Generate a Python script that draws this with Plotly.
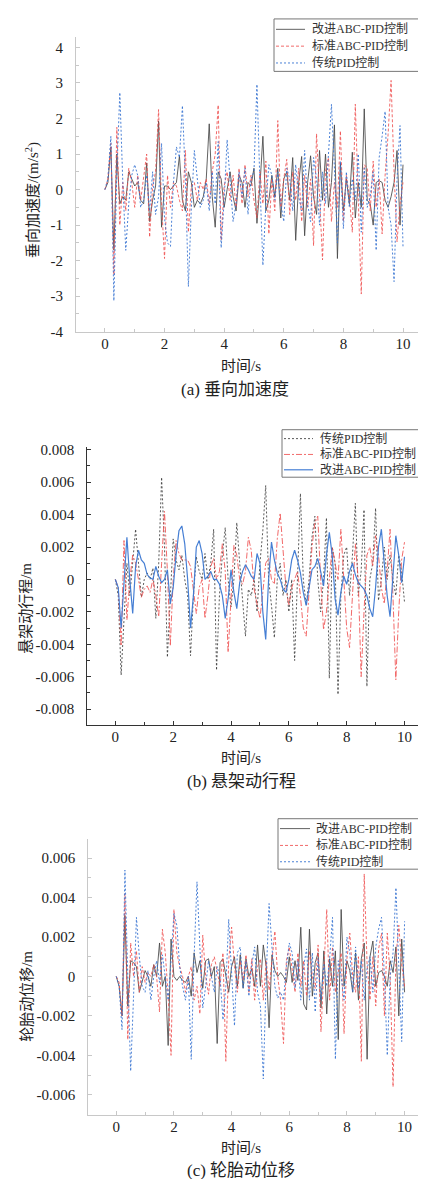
import plotly.graph_objects as go

W, H = 426, 1179
time_s = [i / 10 for i in range(101)]

# ---------- (a) 垂向加速度 (m/s^2) ----------
acc_improved = [0.0, 0.2, 1.2, -1.7, 1.0, -0.4, -0.2, -0.3, 0.5, 0.3,
                0.1, 0.2, -0.3, -0.4, 0.75, -0.9, -0.3, 0.1, 1.93, -1.06,
                0.1, 0.1, 0.0, 0.1, 0.2, 0.95, -0.3, -0.6, 0.5, 0.2,
                -0.5, -0.3, -0.4, -0.2, 0.3, 1.85, -0.2, -1.06, 0.5, 0.3,
                -0.5, 0.0, 0.5, -0.2, -0.6, 0.4, 0.2, -0.5, 0.2, 0.1,
                0.6, -0.95, 0.1, 1.5, -0.6, -0.3, 0.4, -0.2, 0.6, -0.8,
                0.3, 0.5, -0.3, 0.9, -1.43, 0.2, 0.93, -1.3, 0.2, 0.95,
                -0.2, -0.7, 1.1, -0.3, 1.0, -0.5, 0.2, 1.82, -1.94, 0.75,
                -0.6, 0.3, -0.4, 1.05, -0.8, 0.2, -0.5, 2.27, -0.3, -0.4,
                -1.0, 0.2, 0.25, 0.2, -0.3, -0.5, -0.2, 0.2, 1.1, -1.0, 0.7]
acc_standard = [0.0, 0.3, 1.3, -2.4, 1.75, -1.0, 0.2, -0.6, 0.6, 0.2,
                -0.5, 0.4, -0.3, 0.3, 1.0, -1.34, 0.1, 0.5, 2.25, -0.4,
                -1.94, 0.4, -0.5, 0.2, 0.1, -0.3, -0.6, 1.1, -1.2, 0.1,
                0.2, -0.3, 0.2, 0.0, 0.3, -0.4, 0.5, 1.0, 2.38, -1.43,
                0.1, 0.5, -0.3, 0.4, -0.5, 0.6, -0.4, 0.7, -0.2, 0.4,
                -0.3, -0.8, 0.5, -0.4, 0.8, -1.25, 0.3, -0.6, 1.94, -0.5,
                0.3, 0.85, -0.7, 0.5, -0.3, 0.6, -0.9, 0.4, -0.5, 0.3,
                -1.58, 1.57, -0.4, -1.98, 0.5, 0.9, -0.9, 0.2, -0.5, 1.65,
                -0.9, 0.4, -0.2, -1.2, 2.4, -0.5, -2.94, 0.7, 0.6, -0.6,
                0.8, -0.5, 0.3, -1.25, 0.4, 1.55, 3.07, 0.5, -1.47, -0.4, 0.2]
acc_pid = [0.0, 0.3, 1.5, -3.13, 0.5, 2.73, 0.2, -1.71, -0.4, 0.4,
           0.7, 0.4, -0.5, -0.3, 0.4, -0.6, 0.5, -0.7, -0.2, 1.3,
           -0.8, -1.5, -1.6, 0.2, 1.2, 0.9, 2.36, 0.3, -2.73, -0.5,
           1.1, 0.3, -0.5, -0.3, 0.2, -0.6, 0.5, -0.4, 1.35, -1.64,
           -0.3, 1.4, 0.3, -0.9, -0.4, 0.5, -0.2, 0.6, -0.7, 0.3,
           0.5, 2.96, 0.2, -2.13, -0.4, 0.7, 0.4, -0.3, 0.5, -0.4,
           -0.9, 0.6, 0.3, -0.6, 0.7, -0.2, -0.6, 1.1, -0.4, -0.9,
           0.9, 0.3, -1.0, 0.5, -0.4, 1.0, 2.4, 0.6, -1.5, 0.8,
           -1.1, 0.5, -0.5, 0.3, -0.3, 1.0, -1.2, 0.6, -0.5, -0.2,
           0.5, -1.71, 0.9, 1.5, 2.2, -0.5, -1.0, -2.59, 0.3, 1.8, -1.6]

# ---------- (b) 悬架动行程 (m) ----------
susp_pid = [0.0, -0.001, -0.0059, -0.002, 0.001, -0.001, 0.001, 0.0031, 0.001, -0.0011,
            0.0, 0.0004, 0.0, 0.0007, -0.0024, 0.001, 0.0063, 0.002, -0.0048, -0.001,
            0.0025, 0.0012, 0.0006, 0.0015, 0.0, -0.001, -0.0047, -0.001, 0.0014, 0.0005,
            0.0, 0.0016, 0.0, 0.001, 0.0031, -0.0056, -0.001, 0.0015, 0.0032, 0.0,
            -0.0017, 0.0, 0.0035, 0.001, -0.001, -0.0035, -0.0006, -0.001, 0.0, -0.002,
            0.001, 0.003, 0.0058, 0.0, -0.0016, -0.0036, 0.0, 0.001, -0.001, 0.0,
            -0.002, 0.0, -0.005, 0.0, 0.0053, 0.0, -0.0016, 0.0, 0.0026, 0.0039,
            0.0, -0.002, 0.0, 0.0038, -0.0061, 0.002, 0.001, -0.0071, -0.001, 0.0015,
            0.002, -0.001, 0.0015, 0.0047, -0.001, 0.0005, 0.0043, -0.0066, 0.0, 0.001,
            0.0044, -0.0013, 0.0, 0.002, 0.0, 0.0015, 0.0, -0.001, 0.0015, 0.0005, -0.0014]
susp_standard = [0.0, -0.0005, -0.0041, 0.0024, -0.0025, 0.0, 0.0015, 0.001, 0.0, -0.0011,
                 -0.0006, -0.0004, -0.0008, 0.0, -0.001, -0.0023, 0.001, 0.0042, 0.0005, -0.0041,
                 0.0, 0.0024, 0.0016, 0.0012, 0.0012, 0.0012, 0.0008, -0.0005, -0.0021, -0.0005,
                 0.0, -0.0024, -0.001, 0.0008, 0.0013, 0.0, 0.0005, 0.0022, 0.0005, -0.0045,
                 -0.001, 0.0021, 0.0015, 0.0, -0.0003, 0.0005, 0.0026, 0.0018, -0.0006, -0.0015,
                 -0.0024, -0.0008, 0.001, 0.0013, 0.0, -0.0003, 0.0025, 0.0041, 0.002, -0.0005,
                 -0.0016, -0.0005, 0.0, 0.0005, -0.001, -0.003, -0.0035, -0.001, 0.002, 0.0035,
                 0.0039, 0.0, -0.0031, -0.002, 0.0, 0.002, 0.001, 0.0, 0.0031, 0.0,
                 -0.003, -0.0042, -0.001, 0.0022, 0.0, -0.006, -0.002, 0.0015, 0.002, 0.0008,
                 0.0027, 0.0015, -0.0005, -0.0015, 0.0005, 0.0031, -0.001, -0.0062, -0.002, 0.0012, 0.0023]
susp_improved = [0.0, -0.0005, -0.003, -0.0005, 0.0026, 0.0, -0.0021, 0.0008, 0.0018, 0.0012,
                 0.001, 0.0003, 0.0001, 0.0, 0.0008, 0.0002, -0.0002, 0.0, 0.0006, -0.0015,
                 -0.0005, 0.0015, 0.003, 0.0033, 0.0022, 0.0, -0.003, -0.001, 0.002, 0.0024,
                 0.0016, 0.0, 0.0002, 0.0005, 0.0, 0.0, -0.0003, -0.001, -0.0024, -0.0012,
                 0.0006, -0.0008, -0.0018, -0.0002, 0.0005, 0.0009, 0.0006, 0.0002, 0.0, 0.0016,
                 0.001, -0.002, -0.0037, 0.0, 0.0023, 0.0012, 0.0004, 0.0, -0.0006, -0.0008,
                 0.0, 0.0012, 0.0018, 0.0012, 0.0004, -0.0008, -0.0016, -0.0005, 0.0006, 0.0008,
                 0.0013, 0.0005, -0.0004, 0.0015, 0.0029, 0.0015, -0.0012, -0.0022, -0.0008, 0.0002,
                 -0.0003, 0.0005, 0.001, 0.0003, -0.0002, -0.0004, -0.0006, -0.001, -0.0018, -0.0023,
                 -0.0005, 0.002, 0.0031, 0.001, -0.001, -0.0023, 0.0, 0.0027, 0.0015, -0.0002, 0.0014]

# ---------- (c) 轮胎动位移 (m) ----------
tire_improved = [0.0, -0.0005, -0.002, 0.0031, -0.0015, 0.0008, 0.0007, 0.0005, -0.0008, -0.0003,
                 0.0003, 0.0, -0.0005, 0.0006, 0.0, 0.0017, -0.0005, 0.0, -0.0035, 0.0019,
                 0.0, -0.0002, 0.0, -0.0002, -0.0003, 0.0, -0.001, 0.0012, 0.0002, 0.0008,
                 -0.0006, 0.0008, 0.0009, 0.0, 0.0005, -0.0034, 0.0007, 0.0009, 0.0, -0.0008,
                 0.0005, 0.001, -0.0005, 0.0011, -0.0006, 0.0009, 0.0, 0.0004, -0.0005, 0.0016,
                 -0.0005, 0.0016, 0.0005, -0.0026, 0.0011, 0.0003, 0.0, 0.0002, 0.0, -0.0003,
                 0.001, -0.0003, 0.0008, -0.0002, 0.0025, -0.0014, -0.0017, 0.0024, -0.001, 0.0007,
                 0.0012, -0.0016, 0.0013, -0.0019, 0.0009, -0.0005, 0.0013, -0.0032, 0.0034, -0.0005,
                 0.0008, 0.0003, -0.0008, 0.0012, -0.0012, 0.0009, 0.0017, -0.0042, 0.001, 0.0018,
                 -0.0005, 0.0002, 0.0003, 0.0, -0.0005, 0.0008, 0.0002, 0.0015, -0.002, 0.0019, -0.0008]
tire_standard = [0.0, -0.0003, -0.002, 0.0042, -0.0032, 0.0017, 0.0, 0.0013, -0.0008, 0.0005,
                 -0.0003, 0.0002, 0.0, 0.0006, 0.0, -0.0018, 0.0024, 0.0012, -0.001, -0.004,
                 0.0034, 0.0012, 0.0005, 0.0, -0.0008, 0.0, 0.0005, -0.0012, -0.0005, -0.0019,
                 0.0021, 0.0, -0.0009, 0.0006, 0.001, 0.0003, -0.0005, 0.0012, -0.0043, 0.0008,
                 0.0025, 0.0005, -0.0008, 0.0008, -0.0002, 0.0011, -0.0008, 0.0009, -0.0012, 0.0005,
                 0.0009, -0.0012, 0.0008, -0.0007, 0.0009, 0.0023, 0.0, -0.0012, -0.0034, 0.0008,
                 0.0015, 0.0004, -0.0008, 0.0012, -0.0005, 0.0008, -0.001, 0.0013, 0.0, -0.0006,
                 0.0016, -0.0028, 0.0004, 0.0034, -0.0012, 0.0015, -0.0008, 0.0003, 0.0012, -0.0029,
                 0.0009, 0.0022, 0.0, -0.0008, 0.001, -0.0043, 0.0052, 0.0006, -0.0012, 0.001,
                 -0.0015, 0.0014, 0.0022, -0.002, 0.0022, 0.0, -0.0056, 0.001, 0.0026, 0.0006, -0.0005]
tire_pid = [0.0, -0.0005, -0.0027, 0.0054, 0.0, -0.0048, -0.001, 0.003, 0.001, -0.0005,
            -0.0008, 0.0003, -0.0012, 0.0, 0.0008, -0.0003, 0.0011, 0.0, -0.0012, 0.0008,
            0.0032, 0.0026, 0.0005, -0.0005, -0.0012, 0.0, -0.0042, 0.001, 0.0048, 0.0015,
            -0.0016, -0.0005, 0.0008, 0.0, -0.0008, 0.0005, 0.0, -0.0022, -0.0005, 0.0029,
            0.0003, -0.0025, 0.0012, 0.0015, -0.0006, 0.0008, -0.001, 0.0006, 0.0015, -0.0008,
            -0.0015, -0.0052, 0.0, 0.0037, 0.0015, -0.0005, -0.0011, -0.0008, -0.0012, 0.0005,
            0.0017, 0.0012, -0.0006, 0.0008, -0.0012, 0.0005, 0.0014, -0.0012, 0.0012, -0.0018,
            0.0009, -0.0012, 0.0006, -0.0005, 0.0009, 0.003, -0.0042, 0.0008, 0.0, -0.0012,
            0.002, 0.0012, -0.0008, 0.0015, -0.0006, 0.0008, -0.0012, 0.0004, 0.001, -0.0008,
            0.0015, 0.0024, 0.003, 0.0, -0.004, 0.0, 0.0012, 0.0045, 0.0005, -0.0033, 0.0028]

name_improved = "改进ABC-PID控制"
name_standard = "标准ABC-PID控制"
name_pid = "传统PID控制"

# tick labels
x_ticks = [0, 2, 4, 6, 8, 10]
x_ticktext = ["0", "2", "4", "6", "8", "10"]
a_ticks = [-4, -3, -2, -1, 0, 1, 2, 3, 4]
a_ticktext = ["-4", "-3", "-2", "-1", "0", "1", "2", "3", "4"]
b_ticks = [-0.008, -0.006, -0.004, -0.002, 0, 0.002, 0.004, 0.006, 0.008]
b_ticktext = ["-0.008", "-0.006", "-0.004", "-0.002", "0", "0.002", "0.004", "0.006", "0.008"]
c_ticks = [-0.006, -0.004, -0.002, 0, 0.002, 0.004, 0.006]
c_ticktext = ["-0.006", "-0.004", "-0.002", "0", "0.002", "0.004", "0.006"]

SERIF = "Liberation Serif, serif"
FONT = "Liberation Serif, Noto Sans CJK SC, serif"
GRAY = "rgba(70,70,70,0.85)"
RED = "rgba(238,80,80,0.85)"
BLUE = "rgba(55,115,210,0.9)"
GRAY_B = "rgba(60,60,60,0.85)"
BLUE_B = "rgba(60,120,210,0.95)"
DASH_RED = "3px,2px"
DASH_BLUE = "2px,2px"
DASH_DASHDOT = "6px,2px,2px,2px"


def py(px):
    return 1 - px / H


fig = go.Figure()

specs = [
    ("x", "y", [(acc_improved, name_improved, GRAY, 1, "solid"),
                (acc_standard, name_standard, RED, 1, DASH_RED),
                (acc_pid, name_pid, BLUE, 1, DASH_BLUE)]),
    ("x2", "y2", [(susp_pid, name_pid, GRAY_B, 1, DASH_BLUE),
                  (susp_standard, name_standard, RED, 1, DASH_DASHDOT),
                  (susp_improved, name_improved, BLUE_B, 1.2, "solid")]),
    ("x3", "y3", [(tire_improved, name_improved, GRAY, 1, "solid"),
                  (tire_standard, name_standard, RED, 1, DASH_RED),
                  (tire_pid, name_pid, BLUE, 1, DASH_BLUE)]),
]
for xa, ya, series in specs:
    for vals, nm, col, wd, ds in series:
        fig.add_trace(go.Scatter(x=time_s, y=vals, name=nm, mode="lines", showlegend=False,
                                 line=dict(color=col, width=wd, dash=ds), xaxis=xa, yaxis=ya))

tickfont = dict(family=SERIF, size=15, color="#222")


def xax(domain, rng, anchor, linecolor):
    return dict(domain=domain, range=rng, anchor=anchor, showgrid=False, zeroline=False,
                showline=True, linecolor=linecolor, linewidth=1,
                tickmode="array", tickvals=x_ticks, ticktext=x_ticktext,
                ticks="inside", ticklen=4, tickcolor=linecolor, ticklabelstandoff=-2,
                tickfont=tickfont,
                minor=dict(ticks="inside", ticklen=3, dtick=1, tick0=0, tickcolor=linecolor))


def yax(domain, rng, anchor, tv, tt, mdtick, linecolor):
    return dict(domain=domain, range=rng, anchor=anchor, showgrid=False, zeroline=False,
                showline=True, linecolor=linecolor, linewidth=1,
                tickmode="array", tickvals=tv, ticktext=tt,
                ticks="inside", ticklen=4, tickcolor=linecolor, ticklabelstandoff=9,
                tickfont=tickfont,
                minor=dict(ticks="inside", ticklen=3, dtick=mdtick, tick0=0, tickcolor=linecolor))


LIGHT = "#c8c8c8"
DARK = "#333333"

annotations = []
shapes = []


def ann(text, x_px, y_px, size, angle=0, xanchor="center"):
    annotations.append(dict(text=text, x=x_px / W, y=py(y_px), xref="paper", yref="paper",
                            showarrow=False, textangle=angle, xanchor=xanchor, yanchor="middle",
                            font=dict(family=FONT, size=size, color="#222")))


ann("时间/s", 233, 358, 15)
ann("(a) 垂向加速度", 227, 381, 17)
ann("垂向加速度/(m/s<sup>2</sup>)", 24, 190, 15, -90)
ann("时间/s", 233, 754, 15)
ann("(b) 悬架动行程", 233, 777, 17)
ann("悬架动行程/m", 18, 603, 15, -90)
ann("时间/s", 233, 1148, 15)
ann("(c) 轮胎动位移", 233, 1170, 17)
ann("轮胎动位移/m", 19, 995, 15, -90)


def legend_box(x0, x1, y0, y1, line_x0, line_x1, text_x, rows):
    shapes.append(dict(type="rect", xref="paper", yref="paper",
                       x0=x0 / W, x1=x1 / W, y0=py(y1), y1=py(y0),
                       line=dict(color="#777", width=1), fillcolor="white", layer="above"))
    for y_row, nm, col, wd, ds in rows:
        shapes.append(dict(type="line", xref="paper", yref="paper",
                           x0=line_x0 / W, x1=line_x1 / W, y0=py(y_row), y1=py(y_row),
                           line=dict(color=col, width=wd, dash=ds), layer="above"))
        annotations.append(dict(text=nm, x=text_x / W, y=py(y_row), xref="paper", yref="paper",
                                showarrow=False, xanchor="left", yanchor="middle",
                                font=dict(family=FONT, size=12, color="#333")))


legend_box(266, 414, 7, 60, 268, 297, 302,
           [(17.5, name_improved, GRAY, 1, "solid"),
            (34.5, name_standard, RED, 1, DASH_RED),
            (51.5, name_pid, BLUE, 1, DASH_BLUE)])
legend_box(274, 418, 422, 470, 276, 305, 310,
           [(431, name_pid, GRAY_B, 1, DASH_BLUE),
            (447, name_standard, RED, 1, DASH_DASHDOT),
            (462.5, name_improved, BLUE_B, 1.2, "solid")])
legend_box(270, 421.5, 815, 866, 272, 302, 306,
           [(825, name_improved, GRAY, 1, "solid"),
            (842, name_standard, RED, 1, DASH_RED),
            (858.5, name_pid, BLUE, 1, DASH_BLUE)])

fig.update_layout(
    width=W, height=H, margin=dict(l=0, r=0, t=0, b=0),
    paper_bgcolor="white", plot_bgcolor="white",
    font=dict(family=FONT),
    showlegend=False,
    xaxis=xax([68 / W, 1.0], [-0.97, 11.04], "y", LIGHT),
    yaxis=yax([py(323), py(25)], [-4, 4.3], "x", a_ticks, a_ticktext, 0.5, LIGHT),
    xaxis2=xax([79.3 / W, 1.0], [-0.97, 11.02], "y2", DARK),
    yaxis2=yax([py(720), py(439)], [-0.00896, 0.0082], "x2", b_ticks, b_ticktext, 0.001, DARK),
    xaxis3=xax([80.3 / W, 1.0], [-0.97, 11.02], "y3", LIGHT),
    yaxis3=yax([py(1114), py(835)], [-0.00701, 0.0070], "x3", c_ticks, c_ticktext, 0.001, LIGHT),
    annotations=annotations,
    shapes=shapes,
)

fig.write_html("out.html")
